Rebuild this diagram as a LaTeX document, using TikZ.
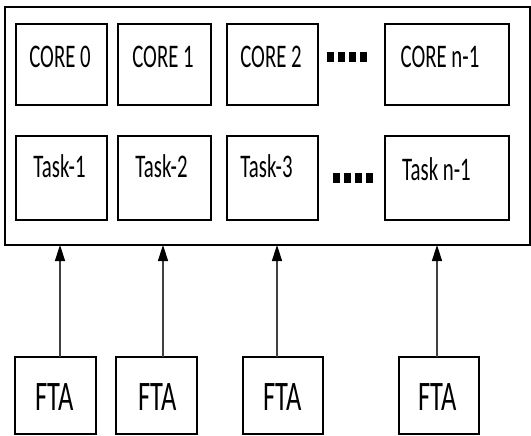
\documentclass[tikz,border=0pt]{standalone}
\usepackage{fontspec}
\usetikzlibrary{arrows.meta}
\newfontfamily\narrowcal[FakeStretch=0.63]{Carlito}
\begin{document}
\begin{tikzpicture}[x=1pt,y=-1pt,
  every node/.style={outer sep=0pt, inner sep=0pt},
  box/.style={draw=black, line width=1.8pt, fill=white},
  lbl/.style={anchor=base, font=\narrowcal\fontsize{33}{36}\selectfont, text=black},
  ftalbl/.style={anchor=base, font=\narrowcal\fontsize{42}{46}\selectfont, text=black},
  arr/.style={draw=black!75, line width=1.5pt, -{Triangle[length=16pt,width=10pt,fill=black,color=black]}},
  dot/.style={fill=black}]
\useasboundingbox (0,0) rectangle (531,436);
% outer box
\node[box, minimum width=525pt, minimum height=238pt] (outer) at (267.5,126) {};
% core row
\node[box, minimum width=91pt, minimum height=81pt] (c0) at (61.5,64.5) {};
\node[box, minimum width=93pt, minimum height=81pt] (c1) at (164.5,64.5) {};
\node[box, minimum width=91pt, minimum height=81pt] (c2) at (272.5,64.5) {};
\node[box, minimum width=124pt, minimum height=81pt] (cn) at (447,64.5) {};
% task row
\node[box, minimum width=91pt, minimum height=84pt] (t1) at (61.5,178) {};
\node[box, minimum width=93pt, minimum height=84pt] (t2) at (164.5,178) {};
\node[box, minimum width=91pt, minimum height=84pt] (t3) at (272.5,178) {};
\node[box, minimum width=124pt, minimum height=84pt] (tn) at (447,178) {};
% labels
\node[lbl] (lc0) at (60,68) {CORE 0};
\node[lbl] (lc1) at (163,68) {CORE 1};
\node[lbl] (lc2) at (271,68) {CORE 2};
\node[lbl] (lcn) at (440,68) {CORE n-1};
\node[lbl] (lt1) at (59.5,178) {Task-1};
\node[lbl] (lt2) at (161.5,178) {Task-2};
\node[lbl] (lt3) at (266.5,178) {Task-3};
\node[lbl] (ltn) at (436.5,180) {Task n-1};
% dots
\foreach \i in {0,1,2,3} {
  \fill[dot] (327+11*\i,52) rectangle ++(7,10);
  \fill[dot] (333+11*\i,173) rectangle ++(7,10);
}
% FTA boxes
\node[box, minimum width=81pt, minimum height=77pt] (f1) at (55.5,395.5) {};
\node[box, minimum width=81pt, minimum height=77pt] (f2) at (156.5,395.5) {};
\node[box, minimum width=80pt, minimum height=77pt] (f3) at (283,395.5) {};
\node[box, minimum width=80pt, minimum height=77pt] (f4) at (439,395.5) {};
\node[ftalbl] (lf1) at (55,410) {FTA};
\node[ftalbl] (lf2) at (157.5,410) {FTA};
\node[ftalbl] (lf3) at (282.5,410) {FTA};
\node[ftalbl] (lf4) at (437.5,410) {FTA};
% arrows
\draw[arr] ([xshift=4.5pt]f1.north) -- ([xshift=4.5pt]f1.north |- outer.south);
\draw[arr] ([xshift=6.5pt]f2.north) -- ([xshift=6.5pt]f2.north |- outer.south);
\draw[arr] ([xshift=-6pt]f3.north) -- ([xshift=-6pt]f3.north |- outer.south);
\draw[arr] ([xshift=-2pt]f4.north) -- ([xshift=-2pt]f4.north |- outer.south);
\end{tikzpicture}
\end{document}
